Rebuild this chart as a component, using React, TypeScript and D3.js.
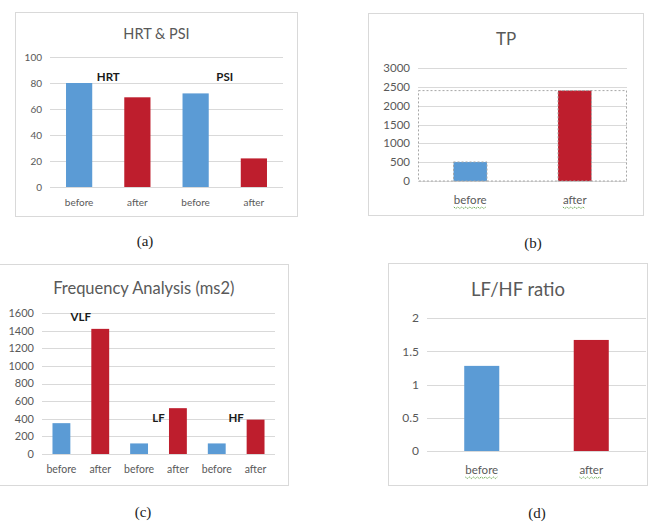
import React, { useEffect, useRef } from "react";
import * as d3 from "d3";

// ---------- data ----------
const hrtPsiCategories = ["before", "after", "before", "after"];
const hrtPsiValues = [80, 69, 72, 22];
const hrtPsiTicks = [0, 20, 40, 60, 80, 100];
const hrtPsiGroups = ["HRT", "PSI"];

const tpCategories = ["before", "after"];
const tpValues = [505, 2400];
const tpTicks = [0, 500, 1000, 1500, 2000, 2500, 3000];

const freqCategories = ["before", "after", "before", "after", "before", "after"];
const freqValues = [350, 1420, 120, 520, 120, 390];
const freqTicks = [0, 200, 400, 600, 800, 1000, 1200, 1400, 1600];
const freqGroups = ["VLF", "LF", "HF"];
const freqGroupLabelValues = [1555, 410, 410];

const ratioCategories = ["before", "after"];
const ratioValues = [1.28, 1.67];
const ratioTicks = [0, 0.5, 1, 1.5, 2];

const BLUE = "#5B9BD5";
const RED = "#BE1E2D";
const GRAY_TEXT = "#595959";
const GRID = "#D9D9D9";
const FONT = "Lato, 'Open Sans', sans-serif";

interface PanelCfg {
  title: string;
  titleSize: number;
  titleY: number;
  frame: [number, number, number, number];
  plotX: [number, number];
  plotY: [number, number];
  ticks: number[];
  tickSize: number;
  categories: string[];
  values: number[];
  catSize: number;
  catY: number;
  barFrac: number;
  wavy: boolean;
  groups?: string[];
  groupValues?: number[];
  groupSize?: number;
  dashedBox?: boolean;
  caption: string;
  captionPos: [number, number];
}

const panels: PanelCfg[] = [
  {
    title: "HRT & PSI", titleSize: 14.5, titleY: 39,
    frame: [15.5, 12.5, 297.5, 216.5], plotX: [50, 283], plotY: [187, 57],
    ticks: hrtPsiTicks, tickSize: 10, categories: hrtPsiCategories, values: hrtPsiValues,
    catSize: 10, catY: 206, barFrac: 0.45, wavy: false,
    groups: hrtPsiGroups, groupValues: [85, 85], groupSize: 11.5,
    caption: "(a)", captionPos: [145, 246],
  },
  {
    title: "TP", titleSize: 17, titleY: 45,
    frame: [368.5, 13.5, 643.5, 215.5], plotX: [418, 627], plotY: [181, 68],
    ticks: tpTicks, tickSize: 11.5, categories: tpCategories, values: tpValues,
    catSize: 11.5, catY: 204, barFrac: 0.32, wavy: true, dashedBox: true,
    caption: "(b)", captionPos: [533, 248],
  },
  {
    title: "Frequency Analysis (ms2)", titleSize: 16.5, titleY: 294,
    frame: [-1, 264.5, 288.5, 485.5], plotX: [42, 275], plotY: [454, 313],
    ticks: freqTicks, tickSize: 11, categories: freqCategories, values: freqValues,
    catSize: 10.5, catY: 473, barFrac: 0.46, wavy: false,
    groups: freqGroups, groupValues: freqGroupLabelValues, groupSize: 11.5,
    caption: "(c)", captionPos: [143, 517],
  },
  {
    title: "LF/HF ratio", titleSize: 18.5, titleY: 296,
    frame: [388.5, 263.5, 647.5, 485.5], plotX: [427, 646], plotY: [451, 318],
    ticks: ratioTicks, tickSize: 12, categories: ratioCategories, values: ratioValues,
    catSize: 11.5, catY: 474, barFrac: 0.32, wavy: true,
    caption: "(d)", captionPos: [537, 518],
  },
];

function drawPanel(svg: d3.Selection<SVGSVGElement, unknown, null, undefined>, p: PanelCfg) {
  const g = svg.append("g");
  const [fx0, fy0, fx1, fy1] = p.frame;
  g.append("rect").attr("x", fx0).attr("y", fy0).attr("width", fx1 - fx0).attr("height", fy1 - fy0)
    .attr("fill", "#fff").attr("stroke", GRID).attr("stroke-width", 1);

  g.append("text").attr("x", (fx0 + fx1) / 2).attr("y", p.titleY).attr("text-anchor", "middle")
    .attr("font-family", FONT).attr("font-size", p.titleSize).attr("fill", GRAY_TEXT).text(p.title);

  const y = d3.scaleLinear().domain([p.ticks[0], p.ticks[p.ticks.length - 1]]).range(p.plotY);
  const x = d3.scaleBand<number>().domain(p.categories.map((_, i) => i)).range(p.plotX).padding(0);

  g.selectAll("line.grid").data(p.ticks).enter().append("line")
    .attr("x1", p.plotX[0]).attr("x2", p.plotX[1])
    .attr("y1", (d) => Math.round(y(d)) + 0.5).attr("y2", (d) => Math.round(y(d)) + 0.5)
    .attr("stroke", GRID).attr("stroke-width", 1);

  g.selectAll("text.tick").data(p.ticks).enter().append("text")
    .attr("x", p.plotX[0] - 8).attr("y", (d) => y(d) + p.tickSize * 0.36)
    .attr("text-anchor", "end").attr("font-family", FONT).attr("font-size", p.tickSize)
    .attr("fill", GRAY_TEXT).text((d) => String(d));

  if (p.dashedBox) {
    const top = y(d3.max(p.values) as number);
    g.append("rect").attr("x", p.plotX[0] + 0.5).attr("y", top)
      .attr("width", p.plotX[1] - p.plotX[0] - 1).attr("height", p.plotY[0] - top)
      .attr("fill", "none").attr("stroke", "#A6A6A6").attr("stroke-width", 1).attr("stroke-dasharray", "2,2");
  }

  const bw = x.step() * p.barFrac;
  g.selectAll("rect.bar").data(p.values).enter().append("rect")
    .attr("x", (_, i) => (x(i) as number) + x.bandwidth() / 2 - bw / 2)
    .attr("y", (d) => y(d)).attr("width", bw).attr("height", (d) => y(0) - y(d))
    .attr("fill", (_, i) => (p.categories[i] === "before" ? BLUE : RED))
    .attr("stroke", p.dashedBox ? "#A6A6A6" : "none")
    .attr("stroke-dasharray", p.dashedBox ? "2,2" : null);

  const cats = g.selectAll("text.cat").data(p.categories).enter().append("text")
    .attr("x", (_, i) => (x(i) as number) + x.bandwidth() / 2).attr("y", p.catY)
    .attr("text-anchor", "middle").attr("font-family", FONT).attr("font-size", p.catSize)
    .attr("fill", GRAY_TEXT).text((d) => d);

  if (p.wavy) {
    cats.each(function (_, i) {
      const el = this as SVGTextElement;
      const w = el.getComputedTextLength();
      const cx = (x(i) as number) + x.bandwidth() / 2;
      const x0 = cx - w / 2;
      const yy = p.catY + 3;
      const pts: [number, number][] = [];
      for (let k = 0; k <= Math.floor(w / 2); k++) pts.push([x0 + k * 2, yy + (k % 2 === 0 ? 0 : 1.5)]);
      g.append("path").attr("d", d3.line()(pts) as string).attr("fill", "none")
        .attr("stroke", "#6AA84F").attr("stroke-width", 1).attr("stroke-dasharray", "1.5,0.8");
    });
  }

  if (p.groups && p.groupValues) {
    p.groups.forEach((name, gi) => {
      const i0 = gi * 2;
      const cx = ((x(i0) as number) + (x(i0 + 1) as number) + x.bandwidth()) / 2;
      g.append("text").attr("x", cx).attr("y", y(p.groupValues![gi]) + (p.groupSize ?? 10) * 0.36)
        .attr("text-anchor", "middle").attr("font-family", FONT).attr("font-weight", "bold")
        .attr("font-size", p.groupSize ?? 10).attr("fill", "#1a1a1a").text(name);
    });
  }

  g.append("text").attr("x", p.captionPos[0]).attr("y", p.captionPos[1]).attr("text-anchor", "middle")
    .attr("font-family", "'Liberation Serif', 'Times New Roman', serif").attr("font-size", 15)
    .attr("fill", "#222").text(p.caption);
}

export default function App() {
  const ref = useRef<SVGSVGElement>(null);
  useEffect(() => {
    if (!ref.current) return;
    const svg = d3.select(ref.current);
    svg.selectAll("*").remove();
    svg.append("rect").attr("width", 665).attr("height", 522).attr("fill", "#fff");
    panels.forEach((p) => drawPanel(svg, p));
  }, []);
  return (
    <svg ref={ref} width={665} height={522}
      style={{ position: "absolute", left: 0, top: 0, display: "block" }} />
  );
}
